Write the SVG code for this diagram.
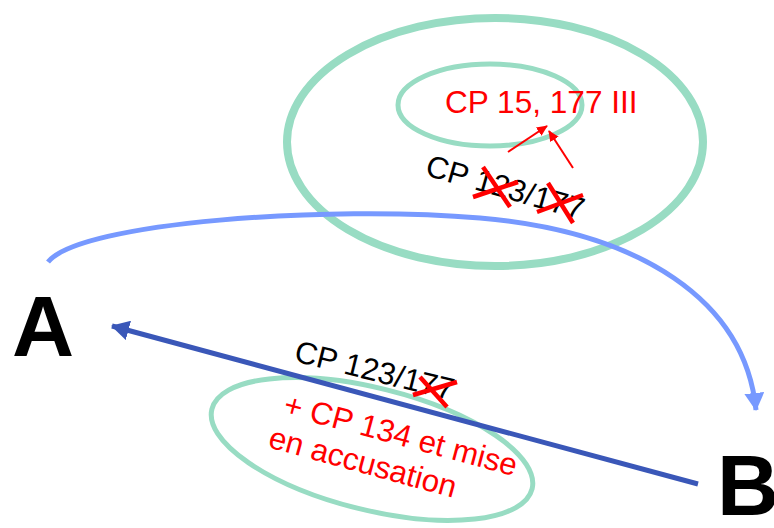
<svg xmlns="http://www.w3.org/2000/svg" width="774" height="528" viewBox="0 0 774 528">
<style>
.ell{fill:none;stroke:#98DCC3}
.red{fill:#FF0000;font-family:"Liberation Sans",Arial,sans-serif}
.blk{fill:#000;font-family:"Liberation Sans",Arial,sans-serif}
.big{font-weight:bold;font-size:86px;fill:#000;font-family:"Liberation Sans",Arial,sans-serif}
.x{stroke:#FF0000;stroke-width:4.5;stroke-linecap:butt}
</style>
<defs>
<marker id="hLight" markerWidth="4" markerHeight="4" refX="3.4" refY="2" orient="auto" markerUnits="strokeWidth"><path d="M0,0 L3.6,2 L0,4 Z" fill="#7799FF"/></marker>
<marker id="hDark" markerWidth="4" markerHeight="4" refX="3.4" refY="2" orient="auto" markerUnits="strokeWidth"><path d="M0,0 L3.6,2 L0,4 Z" fill="#3A57B8"/></marker>
<marker id="hRed" markerWidth="6" markerHeight="6" refX="5" refY="3" orient="auto" markerUnits="strokeWidth"><path d="M0,0.5 L5.5,3 L0,5.5 Z" fill="#FF0000"/></marker>
</defs>
<g id="outer-ellipse"><ellipse class="ell" cx="495" cy="142" rx="208" ry="124" stroke-width="8"/></g>
<g id="inner-ellipse"><ellipse class="ell" cx="490" cy="105" rx="92" ry="41" stroke-width="5"/>
<text class="red" x="445" y="113" font-size="31.6">CP 15, 177 III</text></g>
<g id="lower-ellipse"><ellipse class="ell" cx="372" cy="449" rx="165" ry="61" stroke-width="5" transform="rotate(14 372 449)"/></g>
<g id="connectors">
<path d="M48,262 C80,222 330,205 480,218 C640,232 745,300 756,410" fill="none" stroke="#7799FF" stroke-width="5" marker-end="url(#hLight)"/>
<line x1="698" y1="484" x2="112" y2="326" stroke="#3A57B8" stroke-width="5" marker-end="url(#hDark)"/>
<line x1="508" y1="152" x2="547" y2="126" stroke="#FF0000" stroke-width="2" marker-end="url(#hRed)"/>
<line x1="573" y1="168" x2="549" y2="131" stroke="#FF0000" stroke-width="2" marker-end="url(#hRed)"/>
</g>
<g id="node-A"><text class="big" x="12" y="356">A</text></g>
<g id="node-B"><text class="big" x="717" y="515">B</text></g>
<g id="label-top">
<text class="blk" x="424" y="175" font-size="31" transform="rotate(16 424 175)">CP 123/177</text>
<line class="x" x1="473" y1="197" x2="518" y2="182"/>
<line class="x" x1="483" y1="167" x2="510" y2="207"/>
<line class="x" x1="537" y1="212" x2="583" y2="195"/>
<line class="x" x1="548" y1="183" x2="573" y2="223"/>
</g>
<g id="label-bottom">
<text class="blk" x="293" y="361" font-size="31" transform="rotate(14 293 361)">CP 123/177</text>
<line class="x" x1="413" y1="395" x2="457" y2="382"/>
<line class="x" x1="420" y1="377" x2="447" y2="407"/>
<text class="red" x="282" y="414" font-size="31.3" transform="rotate(15 282 414)">+ CP 134 et mise</text>
<text class="red" x="267" y="447" font-size="31.3" transform="rotate(15.3 267 447)">en accusation</text>
</g>
</svg>
